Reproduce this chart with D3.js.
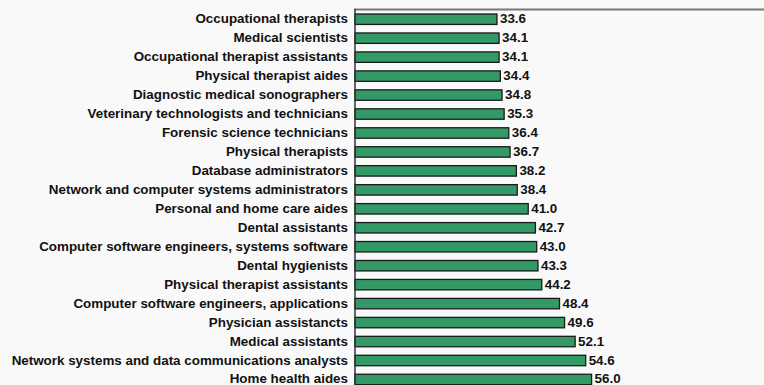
<!DOCTYPE html>
<html>
<head>
<meta charset="utf-8">
<script src="https://cdn.jsdelivr.net/npm/d3@7"></script>
<style>
  html, body { margin: 0; padding: 0; background: #f9f9f9; }
  svg { display: block; }
  text { font-family: "Liberation Sans", Arial, sans-serif; font-weight: bold; font-size: 13.4px; fill: #111; }
</style>
</head>
<body>
<svg id="chart" width="764" height="385"></svg>
<script>
// Occupations and their values
const occupations = [
  "Occupational therapists",
  "Medical scientists",
  "Occupational therapist assistants",
  "Physical therapist aides",
  "Diagnostic medical sonographers",
  "Veterinary technologists and technicians",
  "Forensic science technicians",
  "Physical therapists",
  "Database administrators",
  "Network and computer systems administrators",
  "Personal and home care aides",
  "Dental assistants",
  "Computer software engineers, systems software",
  "Dental hygienists",
  "Physical therapist assistants",
  "Computer software engineers, applications",
  "Physician assistancts",
  "Medical assistants",
  "Network systems and data communications analysts",
  "Home health aides"
];
const values = [33.6, 34.1, 34.1, 34.4, 34.8, 35.3, 36.4, 36.7, 38.2, 38.4,
                41.0, 42.7, 43.0, 43.3, 44.2, 48.4, 49.6, 52.1, 54.6, 56.0];
const xDomain = [0, 100];

const svg = d3.select("#chart");
const W = 764, H = 385;
const plotLeft = 355;

const x = d3.scaleLinear().domain(xDomain).range([plotLeft, plotLeft + 422.5]);
const y = d3.scaleBand()
  .domain(occupations)
  .range([5.47, 393.2])
  .paddingInner(0.45)
  .paddingOuter(0.45);

const rows = occupations.map((name, i) => ({ name, value: values[i] }));

// Top frame line
svg.append("line")
  .attr("x1", plotLeft - 1).attr("x2", W)
  .attr("y1", 9.5).attr("y2", 9.5)
  .attr("stroke", "#777").attr("stroke-width", 2);

// Bars
svg.append("g").selectAll("rect")
  .data(rows)
  .join("rect")
  .attr("x", x(0))
  .attr("y", d => y(d.name))
  .attr("width", d => x(d.value) - x(0))
  .attr("height", y.bandwidth())
  .attr("fill", "#339966")
  .attr("stroke", "#1a1a1a")
  .attr("stroke-width", 1.3);

// Category axis
const yAxis = d3.axisLeft(y).tickSize(0).tickPadding(7);
const gy = svg.append("g")
  .attr("transform", `translate(${plotLeft},0)`)
  .call(yAxis);
gy.select(".domain").attr("stroke", "#333").attr("stroke-width", 1.5)
  .attr("d", `M0,9V${H}`);
gy.selectAll("text")
  .attr("fill", "#111")
  .attr("dy", "0.3em")
  .style("font-family", '"Liberation Sans", Arial, sans-serif')
  .style("font-weight", "bold")
  .style("font-size", "13.4px");

// Value labels
svg.append("g").selectAll("text")
  .data(rows)
  .join("text")
  .attr("x", d => x(d.value) + 3)
  .attr("y", d => y(d.name) + y.bandwidth() / 2)
  .attr("dy", "0.3em")
  .text(d => d.value.toFixed(1));
</script>
</body>
</html>
